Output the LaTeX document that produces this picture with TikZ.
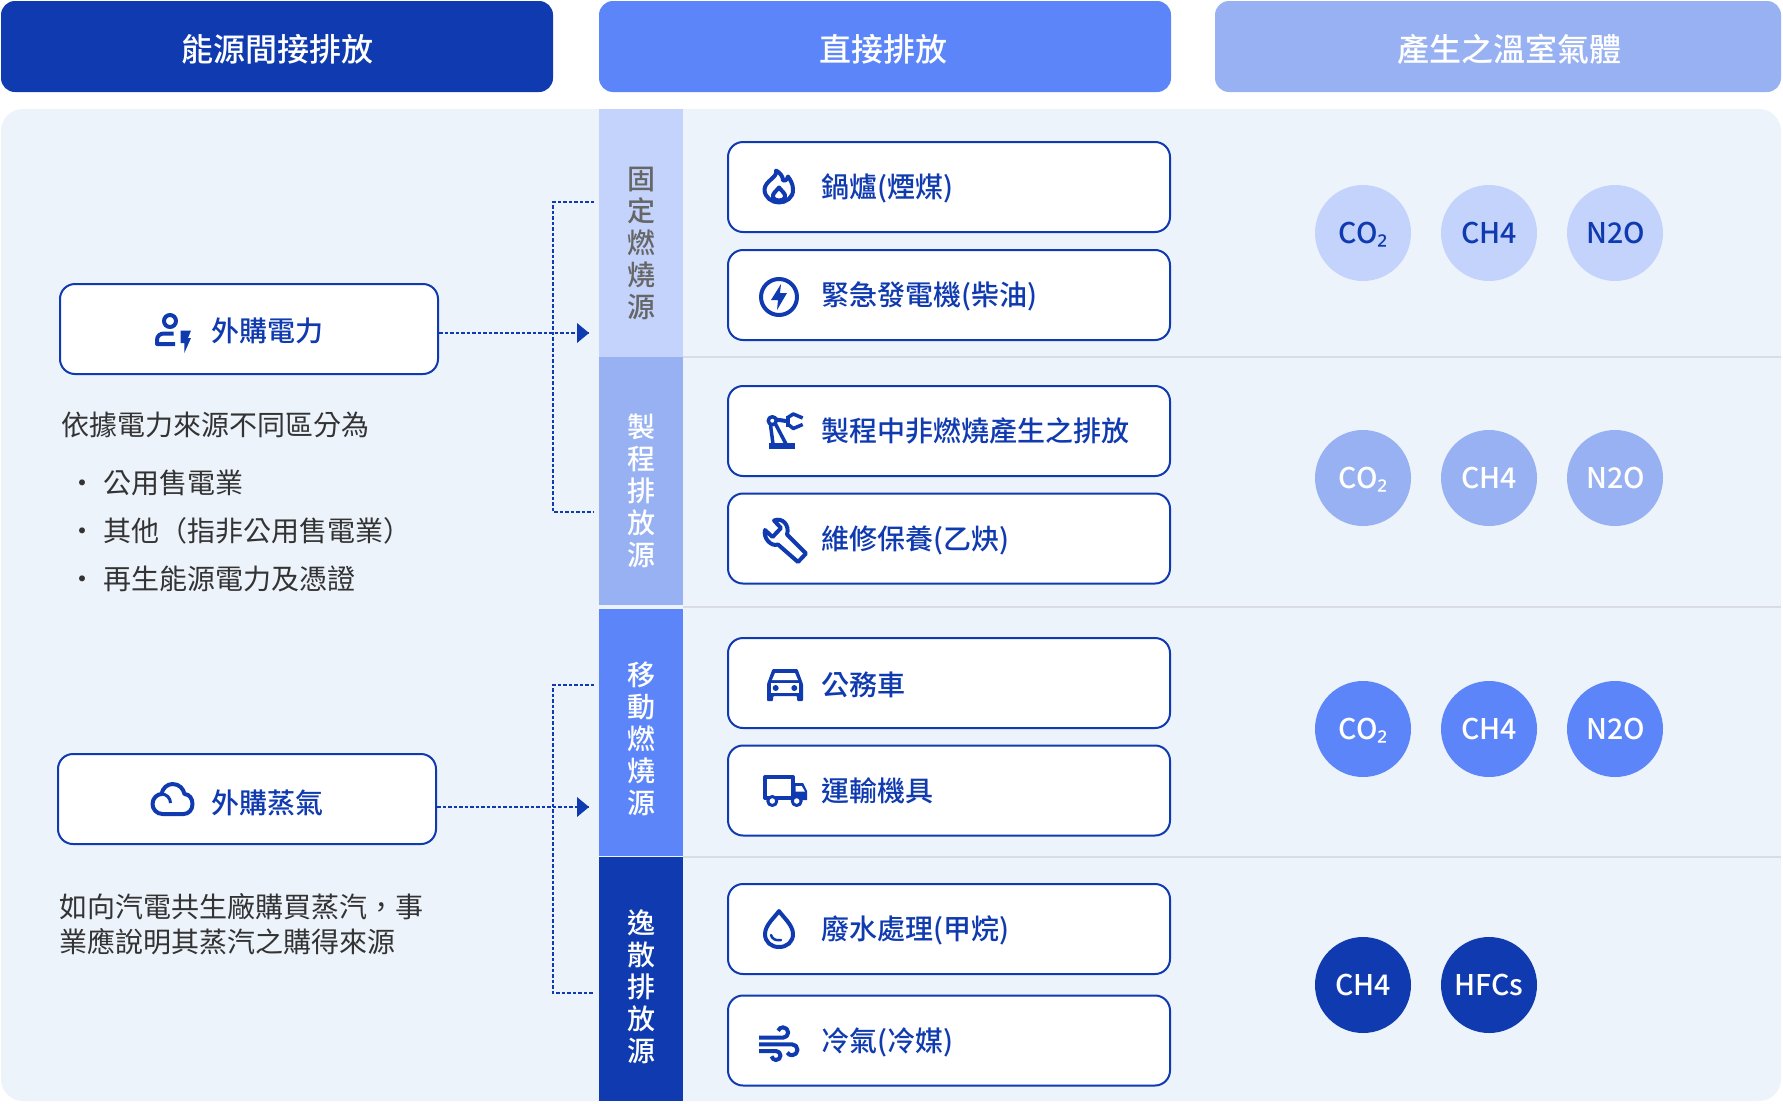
\documentclass[tikz,border=0pt]{standalone}
\usepackage{fontspec}
\setmainfont{Noto Sans CJK TC}
\newfontfamily\medfont{Noto Sans CJK TC Medium}
\newfontfamily\subfont{Noto Sans}
\usetikzlibrary{arrows.meta, positioning}
\definecolor{navy}{HTML}{0F3AB0}
\definecolor{mid}{HTML}{5B85F9}
\definecolor{soft}{HTML}{98B1F2}
\definecolor{pale}{HTML}{C4D3FB}
\definecolor{panel}{HTML}{EDF3FB}
\definecolor{rulegray}{HTML}{D9DDE3}
\definecolor{ink}{HTML}{333333}
\newcommand{\cotwo}{CO{\subfont ₂}}
\tikzset{
  head/.style={fill=#1, rounded corners=14pt, text=white, minimum height=91pt, text height=31pt, text depth=1.6pt, font=\fontsize{32}{32}\selectfont\medfont},
  bar/.style={fill=#1, minimum width=84pt, inner sep=0pt},
  barname/.style={align=center, inner sep=0pt, font=\fontsize{28}{32}\selectfont\medfont},
  srcbox/.style={draw=navy, line width=2pt, fill=white, rounded corners=15pt, minimum width=442pt, minimum height=90pt},
  srcname/.style={right, inner sep=0pt, text=navy, font=\fontsize{28}{28}\selectfont\medfont},
  gas/.style={circle, fill=#1, minimum size=96pt, inner sep=0pt, text height=21pt, text depth=0pt, font=\fontsize{28.5}{29}\selectfont\medfont},
  note/.style={right, inner sep=0pt, text=ink, font=\fontsize{28}{35}\selectfont},
  dotmark/.style={inner sep=0pt, text=ink, font=\fontsize{28}{28}\selectfont},
  flow/.style={navy, line width=2pt, dash pattern=on 3.5pt off 2pt},
  ico/.style={line width=4pt, draw=navy, line join=round},
  icofill/.style={fill=navy, draw=none}
}
\begin{document}
\begin{tikzpicture}[x=1pt, y=-1pt]
  \useasboundingbox (0,0) rectangle (1783,1103);
  \fill[panel] (1,109) [rounded corners=22pt] -- (1,1101) -- (1781,1101) -- (1781,109) -- cycle;

  \node[head=navy, minimum width=552pt] (hleft) at (277,46.5) {能源間接排放};
  \node[head=mid, minimum width=572pt] (hmid) at (885,46.5) {\hspace*{-4pt}直接排放};
  \node[head=soft, minimum width=566pt] (hright) at (1498,46.5) {\hspace*{23pt}產生之溫室氣體};

  \draw[rulegray, line width=2pt] (683,357) -- (1781,357);
  \draw[rulegray, line width=2pt] (683,607) -- (1781,607);
  \draw[rulegray, line width=2pt] (683,857) -- (1781,857);

  \node[bar=pale, minimum height=248pt] (fix) at (641,233) {};
  \node[bar=soft, minimum height=248pt] (pro) at (641,481) {};
  \node[bar=mid, minimum height=247pt] (mob) at (641,732.5) {};
  \node[bar=navy, minimum height=244pt] (fug) at (641,979) {};
  \node[barname, text=ink!75] (fixt) at (641,243) {固\\定\\燃\\燒\\源};
  \node[barname, text=white] (prot) at (641,491) {製\\程\\排\\放\\源};
  \node[barname, text=white] (mobt) at (641,739) {移\\動\\燃\\燒\\源};
  \node[barname, text=white] (fugt) at (641,987) {逸\\散\\排\\放\\源};

  \node[srcbox] (boil) at (949,187) {};
  \node[srcbox, below=16pt of boil] (gen) {};
  \node[srcbox] (proc) at (949,431) {};
  \node[srcbox, below=15.5pt of proc] (fixr) {};
  \node[srcbox] (car) at (949,683) {};
  \node[srcbox, below=15.5pt of car] (truck) {};
  \node[srcbox] (waste) at (949,929) {};
  \node[srcbox, below=19.5pt of waste] (cool) {};
  \node[srcname] (boilt) at (821,188) {鍋爐(煙煤)};
  \node[srcname] (gent) at (821,296.5) {緊急發電機(柴油)};
  \node[srcname] (proct) at (821,431) {製程中非燃燒產生之排放};
  \node[srcname] (fixrt) at (821,540) {維修保養(乙炔)};
  \node[srcname] (cart) at (821,685) {公務車};
  \node[srcname] (truckt) at (821,791) {運輸機具};
  \node[srcname] (wastet) at (821,930) {廢水處理(甲烷)};
  \node[srcname] (coolt) at (821,1042) {冷氣(冷媒)};

  \node[srcbox, minimum width=378pt] (elec) at (249,329) {};
  \node[srcbox, minimum width=378pt] (steam) at (247,799) {};
  \node[srcname] (elect) at (211,331) {外購電力};
  \node[srcname] (steamt) at (211,803) {外購蒸氣};

  \node[note] (n1) at (61,425) {依據電力來源不同區分為};
  \node[dotmark] (d1) at (82,486.5) {•};
  \node[dotmark] (d2) at (82,534.5) {•};
  \node[dotmark] (d3) at (82,582.5) {•};
  \node[note] (b1) at (103,483) {公用售電業};
  \node[note] (b2) at (103,531) {其他（指非公用售電業）};
  \node[note] (b3) at (103,579) {再生能源電力及憑證};
  \node[note, align=left] (n2) at (59,924) {如向汽電共生廠購買蒸汽，事\\業應說明其蒸汽之購得來源};

  \node[gas=pale, text=navy] (g11) at (1363,233) {\cotwo};
  \node[gas=pale, text=navy] (g12) at (1489,233) {CH4};
  \node[gas=pale, text=navy] (g13) at (1615,233) {\hspace*{1pt}N2O};
  \node[gas=soft, text=white] (g21) at (1363,478) {\cotwo};
  \node[gas=soft, text=white] (g22) at (1489,478) {CH4};
  \node[gas=soft, text=white] (g23) at (1615,478) {\hspace*{1pt}N2O};
  \node[gas=mid, text=white] (g31) at (1363,729) {\cotwo};
  \node[gas=mid, text=white] (g32) at (1489,729) {CH4};
  \node[gas=mid, text=white] (g33) at (1615,729) {\hspace*{1pt}N2O};
  \node[gas=navy, text=white] (g41) at (1363,985) {CH4};
  \node[gas=navy, text=white] (g42) at (1489,985) {HFCs};

  \coordinate (fixa) at (594,202);
  \coordinate (proa) at (594,512);
  \coordinate (moba) at (594,685);
  \coordinate (fuga) at (594,993);
  \coordinate (elecin) at (589,333);
  \coordinate (steamin) at (589,807);
  \draw[flow] (fixa) -- ++(-41,0) |- (proa);
  \draw[flow] (moba) -- ++(-41,0) |- (fuga);
  \draw[flow] (elec.east |- elecin) -- (elecin);
  \draw[flow] (steam.east |- steamin) -- (steamin);
  \fill[navy] (elecin) -- ++(-12,-10) -- ++(0,20) -- cycle;
  \fill[navy] (steamin) -- ++(-12,-10) -- ++(0,20) -- cycle;

  \draw[ico] (170,321) circle (6);
  \draw[ico] (173.5,333.5) -- (164,333.5) .. controls (160,333.5) and (157,336) .. (157,340) -- (157,344) -- (175,344);
  \fill[icofill] (180.5,330.5) -- (191,330.5) -- (188,338) -- (191,338) -- (184.3,353) -- (184.3,343) -- (180.5,343) -- cycle;

  \draw[ico] (162.5,814) .. controls (156.5,814) and (152.5,809) .. (152.5,804) .. controls (152.5,798) and (157.5,794) .. (161.5,794) .. controls (162.5,788) and (167.5,784) .. (172.5,784) .. controls (179.5,784) and (183.5,789) .. (184.5,794) .. controls (189.5,794) and (192.5,799) .. (192.5,804) .. controls (192.5,810) and (188.5,814) .. (183.5,814) -- cycle;
  \draw[ico, line width=3pt] (161.5,794) .. controls (166.5,794) and (170.5,798) .. (170.5,803);

  \begin{scope}[shift={(779,186.5)}]
    \draw[ico] (-3,-16) .. controls (-1,-9) and (-14,-6) .. (-14.5,3) .. controls (-14.5,11) and (-7,16) .. (0,16) .. controls (7,16) and (14.5,11) .. (14,3) .. controls (14,-3) and (11,-7) .. (9,-10) .. controls (8,-6) and (5,-5) .. (4,-6) .. controls (4,-10) and (1,-14) .. (-3,-16) -- cycle;
    \draw[ico] (0,1) .. controls (-3,5) and (-7,7) .. (-6,11) .. controls (-5,15) and (5,15) .. (6,11) .. controls (7,7) and (3,5) .. (0,1) -- cycle;
  \end{scope}
  \begin{scope}[shift={(779,297)}]
    \draw[ico] (0,0) circle (18);
    \fill[icofill] (2,-13) -- (-8,3) -- (-1,3) -- (-2,13) -- (8,-4) -- (1,-4) -- cycle;
  \end{scope}

  \fill[icofill] (769,443) rectangle (795,449);
  \draw[ico, line width=3.5pt] (772.3,420.7) circle (4);
  \draw[ico, line width=3.5pt] (770.5,425) -- (773,444);
  \draw[ico, line width=3.5pt] (775.5,424) -- (786,444);
  \draw[ico] (776,419.5) -- (786,421);
  \draw[ico] (787.5,415.5) -- (787.5,426.5);
  \draw[ico, line width=3.5pt] (787,418) -- (793.3,414) -- (802.7,418);
  \draw[ico, line width=3.5pt] (787,423.5) -- (793.3,428.5) -- (802.7,424.5);

  \draw[ico] (774,520.5) -- (781,528) -- (772.5,537) -- (765,530) .. controls (763,538) and (771,547) .. (778,544.5) -- (798,562) -- (806,553.5) -- (787,534.5) .. controls (790,525) and (782,517) .. (774,520.5) -- cycle;

  \fill[icofill, rounded corners=1pt] (772.5,669) -- (797.5,669) -- (803,684) -- (803,701) -- (797,701) -- (797,696) -- (773,696) -- (773,701) -- (767,701) -- (767,684) -- cycle;
  \fill[white] (775,673) -- (795,673) -- (798,680) -- (772,680) -- cycle;
  \fill[white] (771,683) rectangle (799,692.5);
  \fill[navy] (775.7,688) circle (3);
  \fill[navy] (794.3,688) circle (3);

  \draw[ico] (793,798) -- (793,777) -- (765,777) -- (765,798) -- cycle;
  \fill[icofill] (795,783) -- (803,783) -- (807,791) -- (807,800) -- (795,800) -- cycle;
  \fill[white] (795.7,786) -- (801.7,786) -- (805,791.7) -- (795.7,791.7) -- cycle;
  \draw[ico, line width=3pt, fill=white] (772.3,801) circle (4.5);
  \draw[ico, line width=3pt, fill=white] (796.7,801) circle (4.5);

  \begin{scope}[shift={(779,929)}]
    \draw[ico] (0,-18) .. controls (-4,-12) and (-14,-4) .. (-14,5) .. controls (-14,13) and (-8,18) .. (0,18) .. controls (8,18) and (14,13) .. (14,5) .. controls (14,-4) and (4,-12) .. (0,-18) -- cycle;
    \draw[ico, line width=2.5pt, line cap=round] (-8,6) .. controls (-7,10) and (-3,12) .. (2,11);
  \end{scope}

  \draw[ico] (759,1037.7) -- (783,1037.7) arc (90:-160:5.2);
  \draw[ico] (759,1044.3) -- (792,1044.3) arc (-90:150:5.5);
  \draw[ico] (759,1051) -- (776,1051) arc (-90:170:4.5);
\end{tikzpicture}
\end{document}
